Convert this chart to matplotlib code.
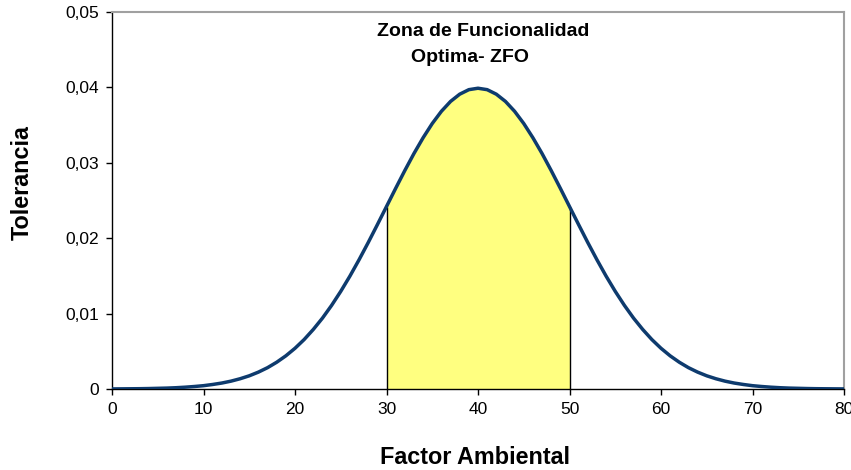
import matplotlib.pyplot as plt
import numpy as np

plt.rcParams['font.family'] = ['Liberation Sans', 'DejaVu Sans']

# factor ambiental (x) y tolerancia (y)
factor = list(range(0, 81))
tolerancia = [0.00001, 0.00002, 0.00003, 0.00004, 0.00006, 0.00009, 0.00012, 0.00017,
              0.00024, 0.00033, 0.00044, 0.00060, 0.00079, 0.00104, 0.00136, 0.00175,
              0.00224, 0.00283, 0.00355, 0.00440, 0.00540, 0.00656, 0.00790, 0.00940,
              0.01109, 0.01295, 0.01497, 0.01714, 0.01942, 0.02179, 0.02420, 0.02661,
              0.02897, 0.03123, 0.03332, 0.03521, 0.03683, 0.03814, 0.03910, 0.03970,
              0.03989,
              0.03970, 0.03910, 0.03814, 0.03683, 0.03521, 0.03332, 0.03123, 0.02897,
              0.02661, 0.02420, 0.02179, 0.01942, 0.01714, 0.01497, 0.01295, 0.01109,
              0.00940, 0.00790, 0.00656, 0.00540, 0.00440, 0.00355, 0.00283, 0.00224,
              0.00175, 0.00136, 0.00104, 0.00079, 0.00060, 0.00044, 0.00033, 0.00024,
              0.00017, 0.00012, 0.00009, 0.00006, 0.00004, 0.00003, 0.00002, 0.00001]
zfo_min, zfo_max = 30, 50
xticks = [0, 10, 20, 30, 40, 50, 60, 70, 80]
yticks = [0, 0.01, 0.02, 0.03, 0.04, 0.05]
ylabels = ['0', '0,01', '0,02', '0,03', '0,04', '0,05']

x = np.array(factor)
y = np.array(tolerancia)

W, H = 851, 470
fig = plt.figure(figsize=(W / 100, H / 100), dpi=100)
ax = fig.add_axes([112/W, 1-389/H, (844-112)/W, (389-12)/H])

m = (x >= zfo_min) & (x <= zfo_max)
ax.fill_between(x[m], 0, y[m], color='#ffff80', lw=0, zorder=1)
ax.vlines([zfo_min, zfo_max], 0, [y[x == zfo_min][0], y[x == zfo_max][0]],
          color='black', lw=1, zorder=2)
ax.plot(x, y, color='#0e3b6e', lw=2.5, zorder=3, solid_capstyle='butt')

ax.set_xlim(0, 80)
ax.set_ylim(0, 0.05)
ax.set_xticks(xticks)
ax.set_yticks(yticks)
ax.set_yticklabels(ylabels)
ax.tick_params(labelsize=12.5, length=4, width=1, colors='black', pad=5)

for s in ['top', 'right']:
    ax.spines[s].set_color('#a0a0a0')
    ax.spines[s].set_linewidth(1.5)
for s in ['left', 'bottom']:
    ax.spines[s].set_color('black')
    ax.spines[s].set_linewidth(1)

fig.text(475/W, 1-457/H, 'Factor Ambiental', fontsize=16.8, fontweight='bold',
         ha='center', va='center')
fig.text(22/W, 1-183/H, 'Tolerancia', fontsize=16.8, fontweight='bold',
         ha='center', va='center', rotation=90)

fig.text(483/W, 1-32/H, 'Zona de Funcionalidad', fontsize=14, fontweight='bold',
         ha='center', va='center')
fig.text(470/W, 1-57/H, 'Optima- ZFO', fontsize=14, fontweight='bold',
         ha='center', va='center')

fig.savefig('out.png', dpi=100)
